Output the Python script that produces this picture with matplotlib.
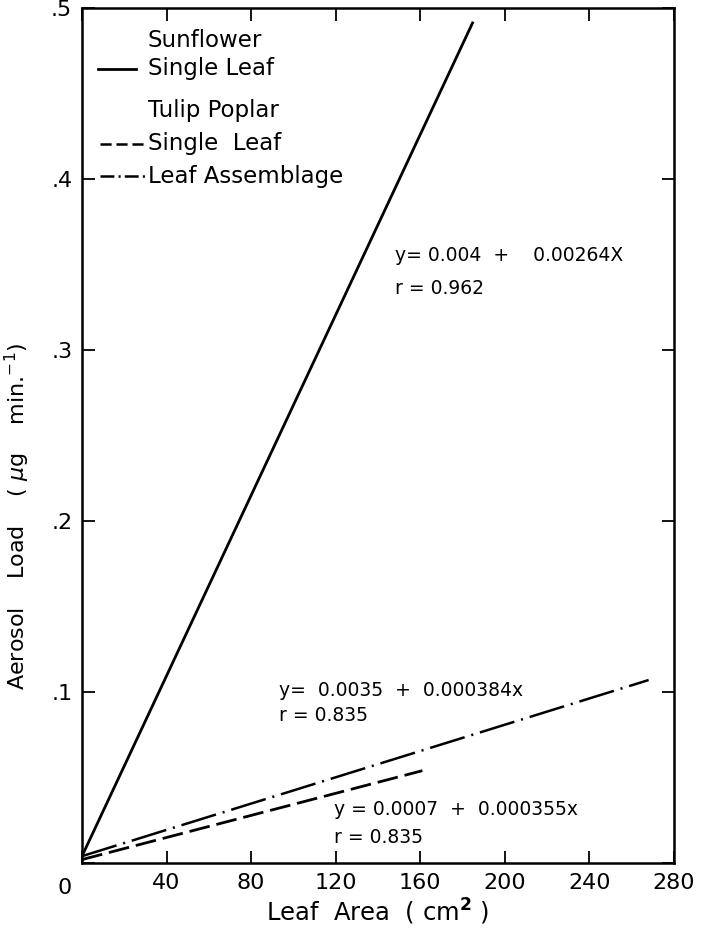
import matplotlib
matplotlib.use("Agg")
import matplotlib.pyplot as plt
from matplotlib.lines import Line2D

plt.rcParams['font.family'] = ['DejaVu Sans']
plt.rcParams['lines.scale_dashes'] = False

# Data: regression line end points
sun_x = [0, 185]
sun_y = [0.004, 0.492]
tp_single_x = [0, 161]
tp_single_y = [0.002, 0.054]
tp_assem_x = [0, 268]
tp_assem_y = [0.004, 0.107]

x_ticks = [0, 40, 80, 120, 160, 200, 240, 280]
x_ticklabels = ['', '40', '80', '120', '160', '200', '240', '280']
y_ticks = [0, 0.1, 0.2, 0.3, 0.4, 0.5]
y_ticklabels = ['', '.1', '.2', '.3', '.4', '.5']

fig = plt.figure(figsize=(7.01, 9.34), dpi=100)
ax = fig.add_axes([82/701, 71/934, 592/701, 855/934])

ax.plot(sun_x, sun_y, color='black', lw=2.0, solid_capstyle='butt')
ax.plot(tp_single_x, tp_single_y, color='black', lw=2.0, dashes=(15, 5))
ax.plot(tp_assem_x, tp_assem_y, color='black', lw=1.8, dashes=(26, 5, 1.5, 5))

ax.set_xlim(0, 280)
ax.set_ylim(0, 0.5)
ax.set_xticks(x_ticks)
ax.set_xticklabels(x_ticklabels)
ax.set_yticks(y_ticks)
ax.set_yticklabels(y_ticklabels)
ax.tick_params(direction='in', length=9, width=1.3, top=True, right=True,
               labelsize=16, pad=7)
for s in ax.spines.values():
    s.set_linewidth(1.8)

# corner zero label
ax.text(-0.03, -0.017, '0', transform=ax.transAxes, ha='center', va='top',
        fontsize=16)

ax.set_xlabel('Leaf  Area  ( cm$^{\\mathbf{2}}$ )', fontsize=17.5, labelpad=3)
ax.set_ylabel('Aerosol    Load    ( $\\mu$g    min.$^{-1}$)', fontsize=16)
ax.yaxis.set_label_coords(-0.084, 0.405)

# legend, hand-set like the original
tkw = dict(transform=ax.transAxes, fontsize=16.5, va='center', ha='left')
ax.text(0.111, 0.962, 'Sunflower', **tkw)
ax.text(0.111, 0.929, 'Single Leaf', **tkw)
ax.text(0.111, 0.880, 'Tulip Poplar', **tkw)
ax.text(0.111, 0.841, 'Single  Leaf', **tkw)
ax.text(0.111, 0.803, 'Leaf Assemblage', **tkw)
ax.add_line(Line2D([0.027, 0.091], [0.929, 0.929], transform=ax.transAxes,
                   color='black', lw=2.0))
ax.add_line(Line2D([0.031, 0.108], [0.841, 0.841], transform=ax.transAxes,
                   color='black', lw=1.8, dashes=(8, 3.5)))
ax.add_line(Line2D([0.031, 0.108], [0.803, 0.803], transform=ax.transAxes,
                   color='black', lw=1.8, dashes=(10, 3, 1.5, 3)))

akw = dict(fontsize=13.5, va='center', ha='left')
ax.text(148, 0.355, 'y= 0.004  +    0.00264X', **akw)
ax.text(148, 0.336, 'r = 0.962', **akw)
ax.text(93, 0.101, 'y=  0.0035  +  0.000384x', **akw)
ax.text(93, 0.086, 'r = 0.835', **akw)
ax.text(119, 0.031, 'y = 0.0007  +  0.000355x', **akw)
ax.text(119, 0.015, 'r = 0.835', **akw)

fig.savefig('out.png', dpi=100)
